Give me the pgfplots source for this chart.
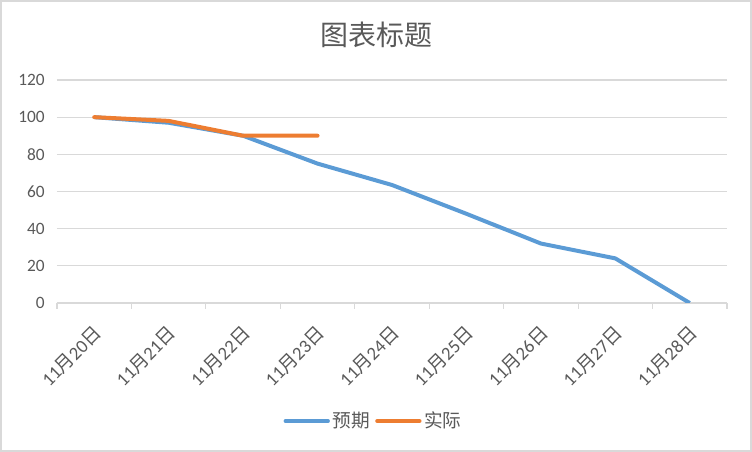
\documentclass[border=0pt]{standalone}
\usepackage{fontspec}
\setmainfont{Carlito}
\newfontfamily\cjk{Noto Sans CJK SC}
\usepackage{pgfplots}
\pgfplotsset{compat=1.18}
\definecolor{cblue}{HTML}{5B9BD5}
\definecolor{corange}{HTML}{ED7D31}
\definecolor{cgrid}{HTML}{D9D9D9}
\definecolor{ctext}{HTML}{595959}
\newcommand{\dlab}[1]{11{\cjk 月}#1{\cjk 日}}
\begin{document}
\begin{tikzpicture}
\draw[cgrid, line width=1.5pt] (0.75pt,0.75pt) rectangle (563.25pt,338.25pt);
\node[text=ctext, font=\cjk\fontsize{21}{25}\selectfont] at (282pt,312.5pt) {图表标题};
\begin{axis}[
  at={(42.75pt,111.75pt)}, anchor=south west,
  width=502.5pt, height=167.25pt, scale only axis,
  xmin=-0.5, xmax=8.5, ymin=0, ymax=120,
  axis lines*=left,
  y axis line style={draw=none},
  x axis line style={cgrid, line width=0.9pt},
  ytick={0,20,...,120},
  ymajorgrids, grid style={cgrid, line width=0.9pt},
  xtick={0,...,8},
  xticklabels={\dlab{20},\dlab{21},\dlab{22},\dlab{23},\dlab{24},\dlab{25},\dlab{26},\dlab{27},\dlab{28}},
  minor xtick={-0.5,0.5,...,8.5},
  tick align=outside,
  major tick length=0pt,
  minor tick length=4.5pt,
  minor x tick style={cgrid, line width=0.9pt},
  major tick style={draw=none},
  /pgf/number format/assume math mode=true,
  yticklabel style={font=\fontsize{13}{15}\selectfont, text=ctext, inner sep=0pt, anchor=east, xshift=-9pt},
  xticklabel style={font=\fontsize{14}{16}\selectfont, text=ctext, inner sep=0pt, xshift=3pt, yshift=-20pt, rotate=45, anchor=east},
  legend style={at={(0.473,-0.529)}, anchor=center, draw=none, fill=none, legend columns=-1,
    font=\cjk\fontsize{14}{16}\selectfont, text=ctext,
    /tikz/every even column/.append style={column sep=2pt}},
  legend image code/.code={\draw[#1, line width=2.7pt, line cap=round] (0pt,0pt) -- (32pt,0pt);},
]
\addplot[cblue, line width=3pt, line join=round] coordinates {(0,100) (1,97) (2,90) (3,75) (4,63.5) (5,48) (6,32) (7,24) (8,0)};
\addlegendentry{预期}
\addplot[corange, line width=3pt, line join=round, line cap=round] coordinates {(0,100) (1,98) (2,90) (3,90)};
\addlegendentry{实际}
\end{axis}
\end{tikzpicture}
\end{document}
